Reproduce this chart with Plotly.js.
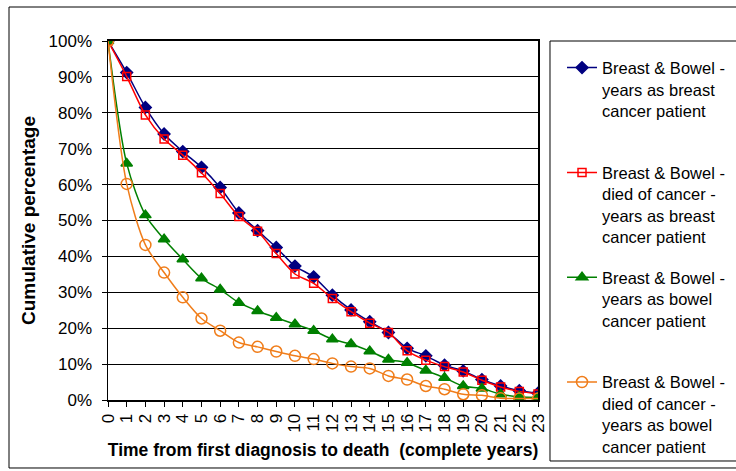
<!DOCTYPE html>
<html>
<head>
<meta charset="utf-8">
<script src="https://cdn.plot.ly/plotly-3.0.1.min.js"></script>
<style>html,body{margin:0;padding:0;background:#fff;}#chart{width:736px;height:471px;}</style>
</head>
<body>
<div id="chart"></div>
<script>
var years = [0,1,2,3,4,5,6,7,8,9,10,11,12,13,14,15,16,17,18,19,20,21,22,23];
var breastYears = [100,91.2,81.5,74.1,69.2,64.8,59.2,52.1,47.2,42.5,37.3,34.3,29.2,25.1,21.8,18.8,14.4,12.3,9.7,8.1,5.7,3.9,2.6,1.9];
var breastDiedCancer = [100,90.1,79.4,72.7,68.2,63.3,57.5,51.1,47.0,40.8,35.1,32.5,28.3,24.6,21.4,18.8,13.7,11.1,9.3,7.8,5.5,3.6,2.4,1.7];
var bowelYears = [100,65.9,51.5,44.8,39.2,33.9,30.8,27.1,24.8,22.9,21.1,19.3,16.9,15.6,13.6,11.3,10.4,8.2,6.2,3.9,3.2,1.6,0.9,0.7];
var bowelDiedCancer = [100,60.2,43.2,35.5,28.6,22.7,19.3,16.0,14.8,13.5,12.3,11.4,10.2,9.3,8.8,6.7,5.7,3.9,3.0,1.6,1.3,0.5,0.4,0.4];
var seriesNames = [
  "Breast & Bowel -<br>years as breast<br>cancer patient<br>&nbsp;",
  "Breast & Bowel -<br>died of cancer -<br>years as breast<br>cancer patient",
  "Breast & Bowel -<br>years as bowel<br>cancer patient<br>&nbsp;",
  "Breast & Bowel -<br>died of cancer -<br>years as bowel<br>cancer patient"
];
var yTickVals = [0,10,20,30,40,50,60,70,80,90,100];
var yTickText = ["0%","10%","20%","30%","40%","50%","60%","70%","80%","90%","100%"];

var FONT = "Arial, 'Liberation Sans', sans-serif";
function mk(y, name, color, sym, size, grp) {
  return {
    x: years, y: y, name: name, type: 'scatter', mode: 'lines+markers',
    legendgroup: grp,
    line: {color: color, width: 1.5, shape: 'spline', smoothing: 0.8},
    marker: {symbol: sym, size: size, color: color, line: {color: color, width: 1.5}}
  };
}
var traces = [
  mk(breastYears, seriesNames[0], '#000080', 'diamond', 9, 'a'),
  mk(breastDiedCancer, seriesNames[1], '#FF0000', 'square-open', 8, 'b'),
  mk(bowelYears, seriesNames[2], '#008000', 'triangle-up', 10, 'c'),
  mk(bowelDiedCancer, seriesNames[3], '#F07D1A', 'circle-open', 11, 'd')
];
var layout = {
  width: 736, height: 471,
  margin: {l: 108, r: 198, t: 41, b: 71, pad: 0},
  paper_bgcolor: '#ffffff', plot_bgcolor: '#ffffff',
  font: {family: FONT, color: '#000', size: 16},
  showlegend: true,
  legend: {
    xref: 'container', yref: 'container',
    x: 0.7636, y: 0.893, xanchor: 'left', yanchor: 'top',
    bgcolor: 'rgba(0,0,0,0)', borderwidth: 0,
    font: {family: FONT, size: 16.5, color: '#000'},
    tracegroupgap: 16, valign: 'top', itemwidth: 30, maxheight: 460
  },
  xaxis: {
    range: [0, 23], tickvals: years, ticktext: years.map(String),
    tickangle: -90, tickfont: {family: FONT, size: 17},
    ticks: 'outside', ticklen: 5, tickcolor: '#000',
    showline: true, linecolor: '#000', linewidth: 2, mirror: true,
    showgrid: false, zeroline: false,
    title: {text: 'Time from first diagnosis to death&nbsp; (complete years)', font: {family: FONT, size: 17.5, weight: 'bold'}, standoff: 12}
  },
  yaxis: {
    range: [0, 100], tickvals: yTickVals, ticktext: yTickText,
    tickfont: {family: FONT, size: 17}, ticklabelstandoff: 6,
    ticks: 'outside', ticklen: 5, tickcolor: '#000',
    showline: true, linecolor: '#000', linewidth: 1.5, mirror: true,
    showgrid: true, gridcolor: '#000', gridwidth: 1, zeroline: false,
    title: {text: 'Cumulative percentage', font: {family: FONT, size: 19, weight: 'bold'}, standoff: 8}
  },
  shapes: [
    {type: 'rect', xref: 'paper', yref: 'paper', x0: -0.2302, x1: 1.47, y0: -0.1894, y1: 1.0947, line: {color: '#000', width: 1}, fillcolor: 'rgba(0,0,0,0)', layer: 'below'},
    {type: 'rect', xref: 'paper', yref: 'paper', x0: 1.0279, x1: 1.48, y0: -0.1699, y1: 1.0, line: {color: '#000', width: 1}, fillcolor: 'rgba(0,0,0,0)', layer: 'below'}
  ]
};
Plotly.newPlot('chart', traces, layout, {displayModeBar: false, staticPlot: true});
</script>
</body>
</html>
